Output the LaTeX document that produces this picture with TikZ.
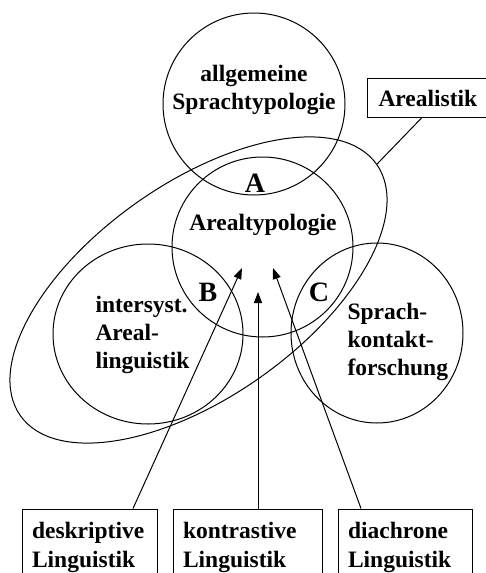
\documentclass[tikz,border=0pt]{standalone}
\usepackage{fontspec}
\setmainfont{Liberation Serif}
\usetikzlibrary{shapes.geometric,arrows.meta}

\begin{document}
\begin{tikzpicture}[x=1pt,y=-1pt,line width=1pt,
    ring/.style={draw,ellipse,inner sep=0pt},
    lbl/.style={font=\fontsize{23.5}{28}\selectfont\bfseries,align=left,inner sep=0pt},
    big/.style={font=\fontsize{28}{30}\selectfont\bfseries,inner sep=0pt},
    box/.style={draw,font=\fontsize{23.5}{29}\selectfont\bfseries,align=left,
      inner xsep=10pt,minimum height=77pt},
    >={Triangle[length=11pt,width=8pt]}]
  \useasboundingbox (0,0) rectangle (486,573);
  \node[ring,minimum width=182pt,minimum height=182pt] (allg) at (254,104) {};
  \node[ring,minimum width=181pt,minimum height=180pt] (atyp) at (262.5,247) {};
  \node[ring,minimum width=190pt,minimum height=180pt] (isal) at (148,334) {};
  \node[ring,minimum width=172pt,minimum height=180pt] (skf) at (377,333) {};
  \node[ring,minimum width=436pt,minimum height=214pt,rotate=35.2] (arl) at (198.5,290) {};

  \node[lbl,align=center] (allgt) at (254,90) {allgemeine\\Sprachtypologie};
  \node[lbl] (atypt) at (263,225) {Arealtypologie};
  \node[big] (la) at (255,183) {A};
  \node[big] (lb) at (208,292) {B};
  \node[big] (lc) at (319,292) {C};
  \node[lbl,anchor=west] (isalt) at (95,335) {intersyst.\\Areal-\\linguistik};
  \node[lbl,anchor=west] (skft) at (347,342) {Sprach-\\kontakt-\\forschung};

  \node[box,minimum height=39pt,text height=19pt,text width=106pt,inner xsep=11pt,anchor=west] (arlt) at (367,97.5) {Arealistik};
  \node[box,text width=115pt] (desk) at (89.5,547.5) {deskriptive\\Linguistik};
  \node[box,text width=129pt] (kontr) at (247.5,547.5) {kontrastive\\Linguistik};
  \node[box,text width=114pt] (diach) at (405,547.5) {diachrone\\Linguistik};

  \coordinate (tipb) at (242,268);
  \coordinate (tipm) at (258,292);
  \coordinate (tipc) at (273,268);
  \draw[->] ([xshift=43.5pt]desk.north) -- (tipb);
  \draw[->] ([xshift=10.5pt]kontr.north) -- (tipm);
  \draw[->] ([xshift=-44pt]diach.north) -- (tipc);
  \draw ([xshift=55pt]arlt.south west) -- (arl.east);
\end{tikzpicture}
\end{document}
